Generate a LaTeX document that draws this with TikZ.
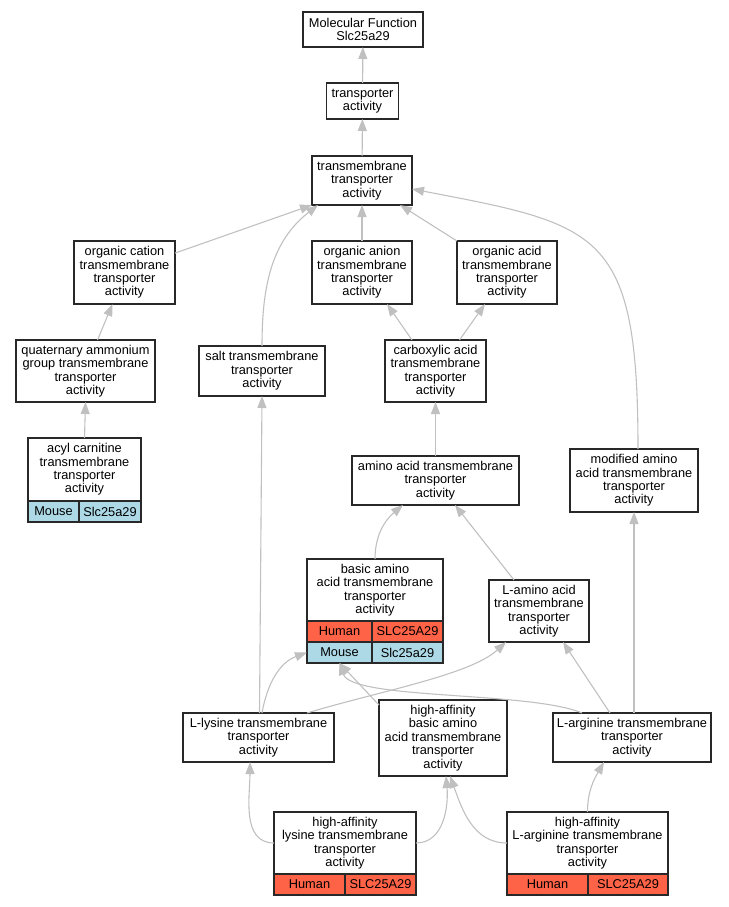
\documentclass[tikz,border=0pt]{standalone}
\usepackage{fontspec}
\setmainfont{Liberation Sans}
\usetikzlibrary{arrows.meta, positioning}
\definecolor{boxline}{RGB}{40,40,40}
\definecolor{edgegray}{RGB}{192,192,192}
\definecolor{human}{RGB}{255,99,71}
\definecolor{mouse}{RGB}{173,216,230}

\begin{document}
\begin{tikzpicture}[
  x=1pt, y=1pt,
  term/.style 2 args={
    rectangle, draw=boxline, line width=1.2pt, fill=white,
    minimum width=#1pt, minimum height=#2pt, inner sep=0pt, outer sep=0pt,
    align=center, font=\fontsize{12.8}{13.4}\selectfont
  },
  cell/.style 2 args={
    rectangle, draw=boxline, line width=1.2pt, fill=#1,
    minimum width=#2pt, minimum height=21pt, inner sep=0pt, outer sep=0pt,
    anchor=north west, font=\fontsize{12.8}{13.4}\selectfont
  },
  isa/.style={
    draw=edgegray, line width=1.1pt, -{Triangle[length=12pt, width=9pt]}
  }
]
\useasboundingbox (0,0) rectangle (728,-907);

% GO terms
\node[term={120}{35}] (mf) at (363,-29.5) {Molecular Function\\Slc25a29};
\node[term={72}{36}] (ta) at (362.5,-101) {transporter\\activity};
\node[term={100}{49}] (tta) at (362,-180.5) {transmembrane\\transporter\\activity};
\node[term={101}{63}] (oc) at (124.5,-272.5) {organic cation\\transmembrane\\transporter\\activity};
\node[term={100}{63}] (oan) at (362,-272.5) {organic anion\\transmembrane\\transporter\\activity};
\node[term={100}{63}] (oac) at (507,-272.5) {organic acid\\transmembrane\\transporter\\activity};
\node[term={139}{62}] (qa) at (85.5,-371) {quaternary ammonium\\group transmembrane\\transporter\\activity};
\node[term={126}{50}] (salt) at (262,-371) {salt transmembrane\\transporter\\activity};
\node[term={101}{62}] (carb) at (435.5,-371) {carboxylic acid\\transmembrane\\transporter\\activity};

\node[term={113}{63}] (acyl) at (84.5,-469.5) {acyl carnitine\\transmembrane\\transporter\\activity};
\node[cell={mouse}{51}] (acylsp) at (acyl.south west) {Mouse};
\node[cell={mouse}{62}] (acylgn) at (acylsp.north east) {Slc25a29};

\node[term={167}{49}] (aat) at (435.5,-480.5) {amino acid transmembrane\\transporter\\activity};
\node[term={128}{63}] (mod) at (634,-480.5) {modified amino\\acid transmembrane\\transporter\\activity};

\node[term={136}{62}] (basic) at (375,-590) {basic amino\\acid transmembrane\\transporter\\activity};
\node[cell={human}{65}] (basichsp) at (basic.south west) {Human};
\node[cell={human}{71}] (basichgn) at (basichsp.north east) {SLC25A29};
\node[cell={mouse}{65}] (basicmsp) at (basichsp.south west) {Mouse};
\node[cell={mouse}{71}] (basicmgn) at (basicmsp.north east) {Slc25a29};

\node[term={100}{62}] (lam) at (539,-611) {L-amino acid\\transmembrane\\transporter\\activity};
\node[term={151}{49}] (lys) at (258.5,-737.5) {L-lysine transmembrane\\transporter\\activity};
\node[term={128}{76}] (hab) at (443,-738) {high-affinity\\basic amino\\acid transmembrane\\transporter\\activity};
\node[term={158}{49}] (larg) at (632,-737.5) {L-arginine transmembrane\\transporter\\activity};

\node[term={142}{62}] (hlys) at (345,-843) {high-affinity\\lysine transmembrane\\transporter\\activity};
\node[cell={human}{71}] (hlyssp) at (hlys.south west) {Human};
\node[cell={human}{71}] (hlysgn) at (hlyssp.north east) {SLC25A29};

\node[term={161}{62}] (harg) at (587.5,-843) {high-affinity\\L-arginine transmembrane\\transporter\\activity};
\node[cell={human}{81}] (hargsp) at (harg.south west) {Human};
\node[cell={human}{80}] (harggn) at (hargsp.north east) {SLC25A29};

% is_a links
\draw[isa] (ta) -- (mf);
\draw[isa] (tta) -- (ta);
\draw[isa] (oc.21) -- (tta.south west);
\draw[isa] (salt.north) to[out=90,in=218] ([xshift=6pt]tta.south west);
\draw[isa] (oan) -- (tta);
\draw[isa] (oac.north west) -- ([xshift=-12pt]tta.south east);
\draw[isa] ([xshift=4pt]mod.north) .. controls +(0,219) and +(188,-36) .. ([yshift=-8.5pt]tta.east);
\draw[isa] ([xshift=12pt]qa.north) -- ([xshift=-12pt]oc.south);
\draw[isa] ([xshift=-23.5pt]carb.north) -- ([xshift=25pt]oan.south);
\draw[isa] ([xshift=24pt]carb.north) -- ([xshift=-22pt]oac.south);
\draw[isa] (acyl.north) -- (qa.south);
\draw[isa] (aat) -- (carb);
\draw[isa] (basic.north) to[out=90,in=220] ([xshift=-32.5pt]aat.south);
\draw[isa] ([xshift=-25pt]lam.north) -- ([xshift=19.5pt]aat.south);
\draw[isa] ([xshift=1pt]lys.north) -- (salt.south);
\draw[isa] ([xshift=3.5pt]lys.north) to[out=80,in=200] (basicmsp.west);
\draw[isa] ([xshift=48.5pt]lys.north) .. controls +(73,22) and +(-36,-33) .. ([xshift=-33pt]lam.south);
\draw[isa] ([yshift=-5pt]hab.north west) -- (basicmsp.south);
\draw[isa] ([xshift=-50pt]larg.north) .. controls +(-52,22) and +(12.5,-37) .. (basicmsp.south);
\draw[isa] ([xshift=-22pt]larg.north) -- ([xshift=24pt]lam.south);
\draw[isa] ([xshift=2pt]larg.north) -- (mod.south);
\draw[isa] (hlys.west) to[out=180,in=-90] ([xshift=-8.5pt]lys.south);
\draw[isa] (hlys.east) to[out=0,in=-85] ([xshift=3pt]hab.south);
\draw[isa] (harg.west) to[out=180,in=-70] ([xshift=7pt]hab.south);
\draw[isa] (harg.north) to[out=90,in=240] ([xshift=-28pt]larg.south);

\end{tikzpicture}
\end{document}
